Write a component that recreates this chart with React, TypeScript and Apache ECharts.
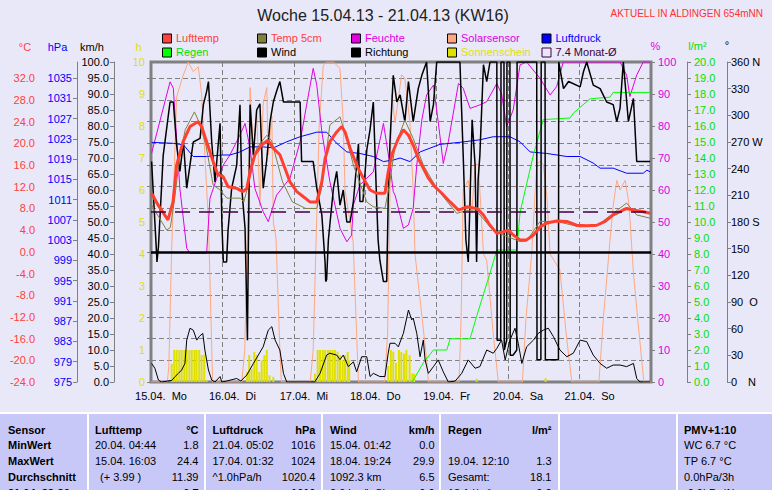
import React, { useEffect, useRef } from 'react';
import * as echarts from 'echarts';

// ---------- data (time in hours since 15.04. 00:00) ----------
const DAY_LABELS = ['15.04.  Mo', '16.04.  Di', '17.04.  Mi', '18.04.  Do', '19.04.  Fr', '20.04.  Sa', '21.04.  So'];

const LUFTTEMP: [number, number][] = [
  [0.2, 10.8], [2.4, 8.6], [5.3, 6.2], [5.7, 5.9], [7.4, 9.2], [8.6, 16.0], [10.8, 20.3], [13.1, 23.1], [15.8, 24.0],
  [17.0, 23.1], [18.7, 20.3], [20.9, 16.6], [22.5, 14.2], [24.2, 13.9], [25.9, 12.0], [28.8, 11.7], [30.9, 11.1],
  [32.2, 11.7], [33.3, 14.8], [34.9, 17.9], [37.2, 19.7], [39.3, 20.6], [41.1, 19.1], [43.3, 17.9], [45.0, 15.4],
  [46.7, 12.9], [49.0, 11.1], [51.1, 10.2], [53.4, 9.2], [55.7, 9.2], [57.4, 12.9], [58.5, 17.2], [60.1, 20.3],
  [62.4, 22.1], [64.1, 23.1], [65.2, 22.1], [66.9, 19.1], [69.1, 16.0], [71.3, 13.6], [73.6, 11.4], [75.8, 10.8],
  [78.6, 10.8], [79.7, 14.7], [80.9, 17.9], [83.1, 20.9], [84.8, 22.5], [86.5, 21.5], [88.1, 19.7], [89.8, 17.2],
  [91.5, 15.4], [93.2, 13.6], [95.4, 12.0], [97.7, 10.8], [100.5, 9.2], [103.3, 7.7], [106.1, 8.3], [109.4, 8.0],
  [111.7, 6.8], [113.9, 4.9], [116.2, 3.4], [118.4, 3.7], [120.1, 4.0], [121.7, 3.1], [124.0, 2.2], [126.2, 2.2],
  [128.5, 3.1], [130.7, 4.6], [133.0, 5.3], [136.3, 5.7], [139.7, 5.6], [143.0, 4.9], [146.4, 4.8], [149.8, 4.9],
  [152.6, 5.6], [155.3, 6.8], [157.6, 7.4], [159.8, 8.0], [162.1, 7.7], [165.4, 7.4], [167.7, 7.1],
];

const TEMP5CM: [number, number][] = [
  [0.2, 8.6], [2.5, 6.5], [5.3, 4.0], [6.5, 4.5], [8.0, 10.0], [9.5, 17.0], [11.5, 22.5], [14.6, 25.8], [16.5, 23.5],
  [18.5, 19.5], [20.9, 12.3], [23.0, 11.5], [25.5, 9.9], [30.0, 9.9], [31.2, 9.2], [33.0, 13.0], [35.5, 19.1],
  [38.9, 21.5], [40.5, 20.5], [44.2, 12.9], [47.5, 9.2], [52.0, 8.0], [55.7, 8.0], [57.4, 12.0], [60.1, 23.4],
  [63.5, 24.9], [65.7, 20.9], [68.0, 16.0], [72.5, 9.2], [74.7, 8.3], [78.6, 8.0], [80.0, 12.0], [82.0, 19.5],
  [85.3, 24.3], [88.1, 20.9], [91.5, 16.0], [96.0, 11.7], [102.7, 7.1], [106.1, 7.6], [109.4, 7.5], [114.9, 4.0],
  [118.4, 3.1], [124.0, 1.9], [126.2, 2.0], [130.7, 5.6], [136.3, 5.6], [144.1, 4.6], [149.8, 4.8], [155.3, 7.1],
  [159.8, 9.0], [163.2, 6.8], [167.7, 6.2],
];

const FEUCHTE: [number, number][] = [
  [0.2, 71.5], [6.4, 93.8], [7.5, 91.8], [9.7, 60.5], [12.0, 41.8], [13.1, 40.2], [18.7, 40.2], [19.8, 57.4],
  [22.1, 63.7], [24.3, 67.8], [26.5, 70.9], [29.9, 77.2], [31.6, 80.8], [33.3, 73.0], [34.9, 60.5], [37.7, 53.2],
  [39.4, 50.1], [42.2, 58.4], [46.7, 63.7], [50.1, 75.1], [52.3, 86.6], [54.5, 98.0], [55.7, 92.8], [57.4, 78.2],
  [60.1, 62.6], [63.5, 48.0], [65.8, 43.8], [67.4, 45.9], [68.0, 55.3], [70.2, 61.6], [74.7, 65.7], [78.1, 80.8],
  [80.3, 67.8], [81.4, 59.5], [82.0, 58.4], [84.8, 48.0], [86.5, 49.1], [88.1, 54.3], [89.3, 67.8], [91.0, 81.9],
  [92.6, 89.7], [94.9, 92.8], [96.5, 81.3], [98.2, 68.3], [99.9, 75.1], [103.3, 93.3], [104.9, 91.8], [107.2, 85.5],
  [110.5, 86.6], [112.8, 87.6], [116.2, 93.3], [117.8, 90.0], [119.5, 79.8], [121.7, 85.0], [124.0, 99.1],
  [126.2, 100], [130.7, 94.9], [134.1, 89.7], [136.3, 92.3], [138.5, 100], [157.6, 100], [159.8, 95.9],
  [160.9, 89.2], [163.2, 95.9], [165.4, 100], [167.7, 100],
];

const SOLAR: [number, number][] = [
  [0, 0], [5.5, 0], [6.0, 5], [6.9, 40], [8.6, 89], [10.5, 95], [12.5, 100], [14.2, 97], [15.9, 98.5], [17.0, 90],
  [18.1, 71], [19.3, 50], [20.0, 25], [20.7, 0],
  [30.5, 0], [31.5, 10], [32.2, 40], [33.0, 70], [33.3, 92], [34.4, 71], [35.5, 85], [36.6, 55], [37.7, 87],
  [38.9, 92], [39.4, 71], [40.6, 83], [41.1, 50], [42.0, 45], [43.3, 10], [43.8, 0],
  [53.5, 0], [54.5, 10], [55.5, 45], [56.5, 80], [57.9, 99], [59.0, 100], [61.3, 100], [63.5, 98], [64.6, 81],
  [65.2, 60], [67.9, 44], [69.7, 0],
  [78.5, 0], [79.5, 15], [80.3, 60], [80.9, 90], [82.0, 81], [84.2, 96], [85.3, 95], [87.0, 81], [88.1, 60],
  [88.7, 40], [90.5, 25], [92.5, 8], [93.2, 0],
  [103.5, 0], [104.2, 20], [104.9, 60], [106.6, 63], [107.8, 53], [108.9, 68], [110.0, 68], [110.5, 60],
  [111.7, 40], [112.8, 38], [115.0, 15], [116.7, 0],
  [124.8, 0], [126.0, 20], [127.9, 40], [129.6, 68], [130.7, 69], [131.8, 68], [133.0, 58], [134.1, 40],
  [137.4, 35], [139.5, 15], [141.4, 0],
  [150.5, 0], [152.0, 20], [154.2, 44], [155.3, 55], [156.5, 63], [157.6, 60], [159.3, 63], [160.4, 57],
  [161.0, 50], [162.1, 34], [163.5, 20], [165.6, 0], [168, 0],
];

const LUFTDRUCK: [number, number][] = [
  [0.2, 1022.3], [7.5, 1022.1], [10.9, 1021.8], [14.2, 1019.5], [18.7, 1019.5], [23.8, 1019.8], [26.5, 1019.8],
  [29.9, 1020.4], [33.3, 1021.4], [37.7, 1021.4], [41.1, 1021.2], [45.6, 1022.4], [50.1, 1023.4], [55.7, 1024.3],
  [59.0, 1024.3], [62.4, 1022.1], [65.8, 1020.4], [70.2, 1020.1], [74.7, 1019.5], [78.1, 1018.5], [81.4, 1018.8],
  [83.7, 1019.2], [87.0, 1018.5], [90.4, 1020.4], [97.1, 1021.9], [103.8, 1022.3], [110.5, 1022.8],
  [115.0, 1023.4], [120.6, 1023.4], [124.0, 1022.4], [127.4, 1020.4], [133.0, 1020.1], [139.7, 1019.5],
  [144.2, 1019.5], [148.6, 1018.2], [150.9, 1017.2], [155.3, 1017.2], [159.8, 1016.2], [165.4, 1016.2],
  [166.6, 1016.8], [167.7, 1016.5],
];

const REGEN: [number, number][] = [
  [87.7, 0], [88.7, 0.3], [91.5, 1.2], [94.9, 2.0], [99.4, 2.0], [100.5, 2.7], [107.2, 2.7], [109.4, 4.1],
  [113.9, 6.8], [116.2, 8.25], [122.9, 8.25], [124.0, 10.6], [128.5, 14.2], [131.8, 16.4], [140.8, 16.5],
  [141.9, 16.8], [147.5, 17.7], [154.2, 17.8], [155.3, 18.1], [167.7, 18.1],
];

const WIND: [number, number][] = [
  [0.2, 5.8], [1.3, 4.3], [2.5, 0.6], [3.5, 0], [7.0, 0.5], [8.1, 1.7], [9.2, 2.7], [10.3, 3.75], [11.4, 5.8],
  [12.0, 13.1], [13.1, 16.8], [14.2, 16.2], [15.4, 13.1], [16.2, 14.2], [17.4, 15.2], [18.1, 10], [19.3, 3.75],
  [20.4, 0.6], [21.5, 0], [23.2, 1.7], [23.8, 0], [25.4, 0.3], [28.8, 1.1], [30.2, 0.3], [32.2, 2.2], [34.4, 5.8],
  [37.7, 11.0], [39.4, 16.2], [40.6, 17.3], [41.7, 13.1], [43.3, 10], [44.5, 2.7], [45.6, 0], [55.0, 0],
  [56.8, 2.7], [59.0, 8.4], [60.1, 9.0], [62.4, 8.4], [63.5, 7.0], [64.6, 8.4], [66.3, 4.8], [68.0, 6.3],
  [69.1, 3.2], [70.8, 7.9], [72.5, 7.9], [73.6, 1.7], [74.7, 2.7], [76.9, 1.7], [78.6, 1.7], [79.7, 9.0],
  [80.3, 12.1], [82.0, 12.1], [83.1, 11.0], [84.8, 15.2], [86.5, 22.5], [87.6, 19.4], [88.1, 20], [89.3, 15.2],
  [90.4, 7.9], [91.5, 13.1], [92.1, 6.9], [93.2, 2.7], [94.9, 4.8], [96.5, 6.9], [98.2, 3.2], [99.9, 0],
  [102.2, 0.3], [104.4, 2.7], [106.6, 6.9], [108.9, 4.3], [110.5, 4.8], [112.8, 10], [115.0, 9.0], [116.2, 10.5],
  [117.8, 13.1], [119.0, 6.9], [120.6, 13.1], [122.3, 16.8], [123.4, 12.1], [124.6, 5.8], [126.2, 11.0],
  [128.5, 13.1], [130.1, 15.2], [131.8, 16.2], [133.5, 16.8], [135.2, 14.2], [137.4, 10], [139.7, 7.9],
  [141.9, 9.0], [144.2, 13.1], [146.4, 12.6], [148.6, 8.4], [150.9, 5.8], [153.1, 4.3], [155.3, 5.3],
  [157.6, 5.3], [159.8, 4.8], [162.1, 5.8], [163.2, 1.1], [164.3, 0], [167.7, 0],
];

const RICHTUNG: [number, number][] = [
  [0.2, 248], [1.9, 143], [2.0, 135], [2.5, 152], [4.1, 255], [6.4, 315], [7.5, 315], [8.6, 267], [9.7, 237],
  [10.9, 270], [12.0, 218], [13.1, 244], [14.2, 270], [16.5, 274], [17.6, 312], [18.7, 327], [19.3, 338],
  [20.4, 270], [21.5, 225], [23.2, 291], [23.8, 180], [24.3, 135], [25.4, 135], [25.9, 171], [27.1, 218],
  [28.8, 244], [29.9, 312], [30.5, 218], [31.6, 173], [32.4, 47], [32.7, 149], [33.3, 312], [34.4, 255],
  [35.5, 306], [36.6, 313], [37.7, 218], [38.9, 250], [40.0, 293], [41.1, 315], [42.2, 327], [43.3, 338],
  [44.5, 315], [50.1, 315], [50.6, 248], [54.5, 248], [55.7, 218], [57.4, 188], [58.5, 134], [58.7, 113],
  [59.0, 115], [59.6, 160], [61.3, 218], [62.4, 237], [63.5, 199], [64.6, 216], [65.8, 180], [66.9, 180],
  [68.0, 203], [69.7, 268], [70.2, 203], [71.2, 203], [72.5, 261], [73.6, 284], [74.7, 315], [75.8, 205],
  [76.3, 160], [76.9, 137], [78.1, 113], [79.2, 113], [79.7, 205], [80.3, 270], [81.4, 345], [82.6, 315],
  [83.7, 323], [85.3, 293], [86.5, 338], [88.1, 293], [89.8, 330], [91.0, 345], [92.6, 360], [93.8, 293],
  [94.9, 312], [96.0, 360], [103.8, 360], [104.9, 255], [105.8, 160], [106.6, 135], [107.2, 205], [107.9, 295],
  [108.9, 244], [109.4, 135], [109.9, 227], [110.5, 255], [111.7, 357], [112.8, 338], [113.9, 360],
  [116.2, 360], [116.3, 47], [117.5, 47], [117.6, 360], [118.6, 360], [118.7, 36], [119.5, 47], [119.6, 360],
  [120.6, 360], [120.7, 30], [121.6, 30], [122.9, 36], [123.0, 360], [129.6, 360], [129.7, 25], [131.0, 25],
  [131.1, 360], [132.4, 360], [132.5, 25], [136.9, 25], [137.0, 360], [138.6, 330], [140.3, 338], [144.2, 332],
  [145.3, 349], [146.4, 360], [148.6, 334], [150.9, 330], [153.1, 315], [155.3, 312], [156.5, 293], [157.6, 308],
  [158.7, 360], [160.4, 293], [162.1, 319], [163.2, 248], [167.7, 248],
];

const SONNENSCHEIN: [number, number][] = [
  [6.95, 0.57], [7.8, 1], [8.6, 1], [9.5, 1], [10.3, 1], [11.2, 1], [12.0, 1], [12.9, 1], [13.7, 1], [14.6, 1],
  [15.3, 1], [16.2, 1], [17.0, 0.84], [17.9, 0.86], [18.7, 0.05],
  [32.3, 0.31], [33.0, 0.84], [33.8, 0.42], [34.7, 0.94], [35.5, 0.84], [36.4, 0.31], [37.2, 0.68], [38.1, 0.84],
  [38.9, 1.0], [39.8, 0.21], [41.1, 0.16],
  [55.1, 0.26], [56.0, 1], [56.8, 1], [57.7, 1], [58.5, 1], [59.4, 1], [60.1, 1], [61.0, 1], [61.8, 1],
  [62.7, 0.95], [63.5, 0.84], [64.4, 0.68], [65.2, 0.84], [66.1, 0.94], [66.6, 0.68],
  [79.7, 0.5], [80.6, 1.0], [81.4, 0.95], [82.3, 0.6], [83.3, 1.0], [84.1, 0.94], [85.0, 0.89], [85.8, 1.0],
  [86.9, 0.84], [87.8, 0.26], [88.4, 0.26],
  [109.4, 0.1], [132.6, 0.12],
];

const MONAT_MITTEL = 7.4;

const DIR_LETTERS: Record<number, string> = { 360: 'N', 270: 'W', 180: 'S', 90: 'O', 0: 'N' };

const LEGEND = [
  { name: 'Lufttemp', box: '#ff4040', text: '#ff4040', col: 0, row: 0 },
  { name: 'Regen', box: '#00ff00', text: '#00e000', col: 0, row: 1 },
  { name: 'Temp 5cm', box: '#808040', text: '#ff4040', col: 1, row: 0 },
  { name: 'Wind', box: '#000000', text: '#000000', col: 1, row: 1 },
  { name: 'Feuchte', box: '#e000e0', text: '#e000e0', col: 2, row: 0 },
  { name: 'Richtung', box: '#000000', text: '#000000', col: 2, row: 1 },
  { name: 'Solarsensor', box: '#ffa880', text: '#e000e0', col: 3, row: 0 },
  { name: 'Sonnenschein', box: '#e0e000', text: '#e0e000', col: 3, row: 1 },
  { name: 'Luftdruck', box: '#0000ff', text: '#0000ff', col: 4, row: 0 },
  { name: '7.4 Monat-Ø', box: 'none', text: '#400040', col: 4, row: 1 },
];

const AXIS_NAMES = [
  { t: '°C', x: 25, y: 47, c: '#ff4040' },
  { t: 'hPa', x: 57.5, y: 47, c: '#0000ff' },
  { t: 'km/h', x: 92, y: 47, c: '#000000' },
  { t: 'h', x: 138.5, y: 47, c: '#e0e000' },
  { t: '%', x: 655.5, y: 46, c: '#e000e0' },
  { t: 'l/m²', x: 697.5, y: 46, c: '#00e000' },
  { t: '°', x: 727, y: 45, c: '#000000' },
];

const TABLE_HEAD = [['Sensor', ''], ['Lufttemp', '°C'], ['Luftdruck', 'hPa'], ['Wind', 'km/h'], ['Regen', 'l/m²'], ['', ''], ['PMV+1:10', '']];
const TABLE_ROWS = [
  [['MinWert', ''], ['20.04. 04:44', '1.8'], ['21.04. 05:02', '1016'], ['15.04. 01:42', '0.0'], ['', ''], ['', ''], ['WC 6.7 °C', '']],
  [['MaxWert', ''], ['15.04. 16:03', '24.4'], ['17.04. 01:32', '1024'], ['18.04. 19:24', '29.9'], ['19.04. 12:10', '1.3'], ['', ''], ['TP 6.7 °C', '']],
  [['Durchschnitt', ''], ['(+ 3.99 )', '11.39'], ['^1.0hPa/h', '1020.4'], ['1092.3 km', '6.5'], ['Gesamt:', '18.1'], ['', ''], ['0.0hPa/3h', '']],
  [['21.04. 23:30', ''], ['', '6.7'], ['', '1016'], ['0.0 km/h Sh', '0.0'], ['18.1 l/m²', '0.0'], ['', ''], ['-0.0hPa/1h', '']],
];

const FONT = '"Liberation Sans", Arial, sans-serif';
const GRAY = '#808080';
const BG = '#e8e8f8';

function txt(text: string, x: number, y: number, fill: string, size = 11, align = 'left', bold = false): any {
  return {
    type: 'text',
    x,
    y,
    silent: true,
    style: {
      text,
      fill,
      font: `${bold ? 'bold ' : ''}${size}px ${FONT}`,
      textAlign: align,
      align,
      textVerticalAlign: 'middle',
      verticalAlign: 'middle',
    },
  };
}

function buildGraphics(): any[] {
  const g: any[] = [];
  g.push(txt('Woche 15.04.13 - 21.04.13 (KW16)', 383, 15, '#202020', 16, 'center'));
  g.push(txt('AKTUELL IN ALDINGEN 654mNN', 763, 13, '#ff3030', 10, 'right'));
  const colX = [162, 257, 351, 447, 541.5];
  const rowY = [38, 52];
  LEGEND.forEach((l) => {
    const bx = colX[l.col];
    const by = rowY[l.row] - 4.5;
    g.push({
      type: 'rect',
      silent: true,
      shape: { x: bx + 0.5, y: by + 0.5, width: 9, height: 9 },
      style: { fill: l.box === 'none' ? BG : l.box, stroke: l.box === 'none' ? '#400040' : '#000000', lineWidth: 1 },
    });
    g.push(txt(l.name, bx + 14, rowY[l.row], l.text, 11));
  });
  AXIS_NAMES.forEach((a) => g.push(txt(a.t, a.x, a.y, a.c, 11, 'center')));

  // table
  g.push({ type: 'rect', silent: true, shape: { x: 0, y: 412, width: 772, height: 78 }, style: { fill: '#c8c8f8' } });
  g.push({ type: 'rect', silent: true, shape: { x: 0, y: 412, width: 772, height: 2 }, style: { fill: '#ffffff' } });
  [87, 204, 321, 439, 558, 676].forEach((x) =>
    g.push({ type: 'rect', silent: true, shape: { x, y: 414, width: 2, height: 76 }, style: { fill: '#ffffff' } })
  );
  const leftX = [8, 95, 212.5, 330, 448, 566, 684];
  const rightX = [0, 198.5, 315.5, 434.5, 551.5, 0, 0];
  const rowsY = [429.5, 445, 461, 477, 493];
  const all = [TABLE_HEAD, ...TABLE_ROWS];
  all.forEach((row, ri) => {
    row.forEach((cell, ci) => {
      const bold = ri === 0 || ci === 0 || ri === 4;
      if (cell[0]) {
        const indent = cell[0].startsWith('(') ? 5 : 0;
        g.push(txt(cell[0], leftX[ci] + indent, rowsY[ri], '#000000', 11, 'left', bold && !(ri === 4 && ci > 0)));
      }
      if (cell[1]) g.push(txt(cell[1], rightX[ci], rowsY[ri], '#000000', 11, 'right', bold));
    });
  });
  return g;
}

function yAxis(o: any): any {
  return {
    type: 'value',
    min: o.min,
    max: o.max,
    interval: o.interval,
    position: o.position,
    offset: o.offset,
    axisLine: { show: o.line !== false, lineStyle: { color: GRAY, width: 1 } },
    axisTick: { show: o.tick !== false, length: 4, lineStyle: { color: GRAY } },
    axisLabel: {
      color: o.color,
      fontSize: 11,
      fontFamily: FONT,
      margin: o.margin ?? 5,
      formatter: o.formatter,
      showMaxLabel: o.showMax !== false,
      rich: o.rich,
    },
    splitLine: o.split
      ? { show: true, lineStyle: { color: GRAY, type: [5, 3], width: 1 } }
      : { show: false },
  };
}

function lineSeries(name: string, data: any, yAxisIndex: number, color: string, width = 1, extra: any = {}): any {
  return {
    name,
    type: 'line',
    data,
    yAxisIndex,
    xAxisIndex: 0,
    symbol: 'none',
    showSymbol: false,
    lineStyle: { color, width },
    itemStyle: { color },
    ...extra,
  };
}

function dirLabel(v: number): string {
  const letter = DIR_LETTERS[v];
  if (!letter) return `{n|${v}}`;
  const digits = String(v).length;
  return `{n|${v}}{p${digits}|${letter}}`;
}

export default function App() {
  const ref = useRef<HTMLDivElement>(null);
  useEffect(() => {
    if (!ref.current) return;
    const chart = echarts.init(ref.current, null, { renderer: 'svg' });
    const richBase = { fontSize: 11, fontFamily: FONT, color: '#000000' };
    const option: any = {
      animation: false,
      backgroundColor: BG,
      grid: {
        left: 151,
        right: 121,
        top: 62,
        bottom: 108,
        show: true,
        borderColor: GRAY,
        borderWidth: 3,
        backgroundColor: 'transparent',
        containLabel: false,
      },
      xAxis: {
        type: 'value',
        min: 0,
        max: 168,
        interval: 24,
        axisLine: { show: false },
        axisTick: { show: true, length: 5, lineStyle: { color: GRAY } },
        axisLabel: {
          color: '#000000',
          fontSize: 11,
          fontFamily: FONT,
          margin: 8,
          padding: [0, 0, 0, 20],
          showMaxLabel: false,
          formatter: (v: number) => DAY_LABELS[Math.round(v / 24)] ?? '',
        },
        splitLine: { show: true, lineStyle: { color: GRAY, type: [5, 3], width: 1 } },
      },
      yAxis: [
        yAxis({ min: -24, max: 35, interval: 4, position: 'left', offset: 111, color: '#ff4040', split: true, showMax: false, formatter: (v: number) => v.toFixed(1) }),
        yAxis({ min: 975, max: 1038.15, interval: 4, position: 'left', offset: 74, color: '#0000ff', showMax: false, formatter: (v: number) => String(Math.round(v)) }),
        yAxis({ min: 0, max: 100, interval: 5, position: 'left', offset: 37, color: '#000000', formatter: (v: number) => v.toFixed(1) }),
        yAxis({ min: 0, max: 10, interval: 1, position: 'left', offset: 0, color: '#e0e000', line: false, tick: false, margin: 6 }),
        yAxis({ min: 0, max: 100, interval: 10, position: 'right', offset: 0, color: '#e000e0', line: false, margin: 7 }),
        yAxis({ min: 0, max: 20, interval: 1, position: 'right', offset: 36, color: '#00e000', margin: 7, formatter: (v: number) => v.toFixed(1) }),
        yAxis({
          min: 0, max: 360, interval: 30, position: 'right', offset: 76, color: '#000000', margin: 4,
          formatter: dirLabel,
          rich: {
            n: { ...richBase },
            p3: { ...richBase, padding: [0, 0, 0, 3] },
            p2: { ...richBase, padding: [0, 0, 0, 6] },
            p1: { ...richBase, padding: [0, 0, 0, 11] },
          },
        }),
      ],
      graphic: buildGraphics(),
      series: [
        {
          name: 'Sonnenschein',
          type: 'bar',
          data: SONNENSCHEIN,
          xAxisIndex: 0,
          yAxisIndex: 3,
          barWidth: 2,
          itemStyle: { color: '#e0e000' },
        },
        lineSeries('Solarsensor', SOLAR, 4, '#ffa880', 1),
        lineSeries('Feuchte', FEUCHTE, 4, '#e000e0', 1),
        lineSeries('Luftdruck', LUFTDRUCK, 1, '#0000ff', 1),
        lineSeries('Regen', REGEN, 5, '#00ff00', 1),
        lineSeries('Wind', WIND, 2, '#000000', 1),
        lineSeries('Richtung', RICHTUNG, 6, '#000000', 1.5),
        lineSeries('Temp 5cm', TEMP5CM, 0, '#808040', 1),
        lineSeries('Lufttemp', LUFTTEMP, 0, '#ff4030', 3, {
          markLine: {
            silent: true,
            symbol: 'none',
            label: { show: false },
            data: [
              { yAxis: MONAT_MITTEL, lineStyle: { color: '#400040', type: [15, 9], width: 1.5 } },
              { yAxis: 0, lineStyle: { color: '#000000', type: 'solid', width: 2.5 } },
            ],
          },
        }),
      ],
    };
    chart.setOption(option);
    return () => chart.dispose();
  }, []);
  return <div ref={ref} style={{ position: 'fixed', left: 0, top: 0, width: 772, height: 490 }} />;
}
